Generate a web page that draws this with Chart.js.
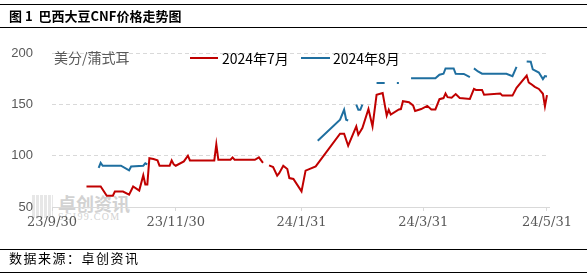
<!DOCTYPE html>
<html>
<head>
<meta charset="utf-8">
<script src="https://cdn.jsdelivr.net/npm/chart.js@4"></script>
<style>
  body { margin: 0; width: 587px; height: 277px; position: relative; overflow: hidden; background: #fff; font-family: "Noto Sans CJK SC", sans-serif; }
  #chart { position: absolute; left: 0; top: 0; z-index: 1; }
  .rule { position: absolute; left: 0; width: 587px; height: 1px; background: #000; z-index: 2; }
  .txt { position: absolute; white-space: nowrap; z-index: 2; line-height: 16px; }
  .key { position: absolute; height: 2px; z-index: 2; }
  .wm { position: absolute; white-space: nowrap; z-index: 0; color: #d2d2d2; }
</style>
</head>
<body>
<div class="rule" style="top:4px"></div>
<div class="txt" style="left:9px;top:8px;font-size:13px;font-weight:bold;color:#000">图 1&nbsp;&nbsp;巴西大豆CNF价格走势图</div>
<div class="rule" style="top:27px"></div>

<div class="txt" style="left:54px;top:49px;font-size:14px;color:#595959">美分/蒲式耳</div>
<div class="key" style="left:190px;top:57px;width:28px;background:#c00000"></div>
<div class="txt" style="left:222px;top:50px;font-size:14px;color:#000">2024年7月</div>
<div class="key" style="left:301px;top:57px;width:29px;background:#1f6fa0"></div>
<div class="txt" style="left:333px;top:50px;font-size:14px;color:#000">2024年8月</div>

<div class="wm" style="left:32px;top:195px;width:21px;height:23px;background:repeating-linear-gradient(90deg,#e2e2e2 0 3px,#fff 3px 4px),#e2e2e2;opacity:.8"></div>
<div class="wm" style="left:58px;top:194px;font-size:18px;font-weight:bold;line-height:18px">卓创资讯</div>
<div class="wm" style="left:58px;top:212px;font-size:10px;font-family:'Liberation Serif',serif;letter-spacing:1.3px;line-height:9px">SCI99.COM</div>

<canvas id="chart" width="587" height="277"></canvas>

<div class="rule" style="top:249px"></div>
<div class="txt" style="left:9px;top:250px;font-size:13px;color:#000;letter-spacing:1.5px">数据来源：卓创资讯</div>
<div class="rule" style="top:272px"></div>

<script>
// x axis ticks
const tickDates = ['2023-09-30', '2023-11-30', '2024-01-31', '2024-03-31', '2024-05-31'];
const tickLabels = ['23/9/30', '23/11/30', '24/1/31', '24/3/31', '24/5/31'];

// 2024年7月
const dates7 = [
    '2023-10-17', '2023-10-24', '2023-10-27', '2023-10-30', '2023-10-31', '2023-11-04', '2023-11-07', '2023-11-09', '2023-11-12', '2023-11-14',
    '2023-11-15', '2023-11-16', '2023-11-17', '2023-11-19', '2023-11-21', '2023-11-22', '2023-11-27', '2023-11-28', '2023-11-29', '2023-11-30',
    '2023-12-04', '2023-12-06', '2023-12-07', '2023-12-19', '2023-12-20', '2023-12-21', '2023-12-27', '2023-12-28', '2023-12-29', '2024-01-08',
    '2024-01-10', '2024-01-12', '2024-01-14', '2024-01-15', '2024-01-17', '2024-01-19', '2024-01-20', '2024-01-22', '2024-01-24', '2024-01-25',
    '2024-01-27', '2024-01-31', '2024-02-02', '2024-02-07', '2024-02-19', '2024-02-21', '2024-02-23', '2024-02-27', '2024-02-28', '2024-03-01',
    '2024-03-04', '2024-03-06', '2024-03-08', '2024-03-11', '2024-03-13', '2024-03-14', '2024-03-15', '2024-03-19', '2024-03-20', '2024-03-21',
    '2024-03-24', '2024-03-26', '2024-03-27', '2024-03-30', '2024-04-02', '2024-04-04', '2024-04-06', '2024-04-08', '2024-04-10', '2024-04-11',
    '2024-04-12', '2024-04-14', '2024-04-16', '2024-04-18', '2024-04-23', '2024-04-25', '2024-04-26', '2024-04-29', '2024-04-30', '2024-05-08',
    '2024-05-09', '2024-05-14', '2024-05-16', '2024-05-21', '2024-05-22', '2024-05-23', '2024-05-25', '2024-05-27', '2024-05-29', '2024-05-30',
    '2024-05-31'
];
const values7 = [
    70, 70, 61, 61, 65, 65, 62, 70, 66, 81,
    72, 72, 97.5, 96.7, 95.4, 90.2, 90.2, 95.4, 91.5, 90.2,
    94.4, 100, 95.4, 95.4, 111, 96, 96, 98.3, 96, 96,
    98.3, 93, null, 90.5, 89, 80.5, 83, 90.2, 87, 78.2,
    77.3, 65.2, 85.4, 89.5, 121.4, 121.4, 109.7, 128.5, 120.4, 126.9,
    145.4, 128.5, 159.3, 161, 139, 144.7, 140, 145, 145.4, 153,
    152, 149, 143.5, 145.4, 148.5, 145, 145, 155, 156.1, 160.5,
    157, 156.5, 160, 156.1, 155.3, 165, 164, 164, 159.3, 160.5,
    158.5, 158.5, 166, 178, 171.3, 170, 167, 165, 160.3, 148,
    159
];

// 2024年8月
const dates8 = [
    '2023-10-23', '2023-10-24', '2023-10-25', '2023-11-03', '2023-11-07', '2023-11-08', '2023-11-14', '2023-11-15', '2023-11-16', '2023-11-17',
    '2024-02-08', '2024-02-19', '2024-02-21', '2024-02-22', '2024-02-23', '2024-02-25', '2024-02-27', '2024-02-28', '2024-02-29', '2024-03-01',
    '2024-03-04', '2024-03-08', '2024-03-12', '2024-03-14', '2024-03-18', '2024-03-19', '2024-03-21', '2024-03-25', '2024-04-06', '2024-04-08',
    '2024-04-10', '2024-04-11', '2024-04-15', '2024-04-16', '2024-04-20', '2024-04-23', '2024-04-24', '2024-04-25', '2024-04-27', '2024-04-29',
    '2024-05-11', '2024-05-14', '2024-05-16', '2024-05-18', '2024-05-21', '2024-05-23', '2024-05-24', '2024-05-27', '2024-05-29', '2024-05-30',
    '2024-05-31'
];
const values8 = [
    88, 93, 90.2, 90.2, 85.6, 89.5, 90.2, 92.5, 91.5, null,
    114.6, 135, 144.7, 135, 134.3, null, 149.6, 144.7, 144.7, 149.6,
    null, 170.7, 170.7, null, 170.7, 170.7, null, 175.3, 175.3, 178.8,
    179.8, 185, 185, 179.8, 179.6, 176.5, null, 185, 182, 179.8,
    179.8, 177.5, 186.5, null, 191.8, 191.5, 184, 181, 174.6, 177.5,
    177.2
];

const dayOf = s => (Date.parse(s) - Date.parse('2023-09-30')) / 86400000;
const toPoints = (dates, values) => dates.map((d, i) => ({ x: dayOf(d), y: values[i] }));

const chart = new Chart(document.querySelector('#chart'), {
    type: 'line',
    data: {
        datasets: [
            {
                label: '2024年7月',
                data: toPoints(dates7, values7),
                borderColor: '#c00000',
                backgroundColor: '#c00000',
                borderWidth: 2,
                pointRadius: 0,
                tension: 0,
                spanGaps: false,
            },
            {
                label: '2024年8月',
                data: toPoints(dates8, values8),
                borderColor: '#1f6fa0',
                backgroundColor: '#1f6fa0',
                borderWidth: 2,
                pointRadius: 0,
                tension: 0,
                spanGaps: false,
            }
        ]
    },
    options: {
        responsive: false,
        animation: false,
        devicePixelRatio: 1,
        layout: { padding: { top: 53, right: 38, bottom: 0, left: 0 } },
        scales: {
            x: {
                type: 'linear',
                min: 0,
                max: 245,
                afterBuildTicks: axis => { axis.ticks = tickDates.map(d => ({ value: dayOf(d) })); },
                afterFit: scale => { scale.height = 70; },
                grid: { drawOnChartArea: false, drawTicks: true, tickLength: 4, color: '#d9d9d9' },
                border: { color: '#d9d9d9' },
                ticks: {
                    autoSkip: false,
                    maxRotation: 0,
                    padding: 4,
                    color: '#595959',
                    font: { family: 'DejaVu Serif', size: 13 },
                    callback: (v, i) => tickLabels[i],
                }
            },
            y: {
                min: 50,
                max: 200,
                afterFit: scale => { scale.width = 52; },
                grid: { color: '#d9d9d9', drawTicks: false },
                border: { display: false, dash: [4, 3] },
                ticks: {
                    stepSize: 50,
                    padding: 19,
                    color: '#595959',
                    font: { family: 'Liberation Sans', size: 13 },
                }
            }
        },
        plugins: {
            legend: { display: false },
            tooltip: { enabled: false },
        }
    }
});
</script>
</body>
</html>
